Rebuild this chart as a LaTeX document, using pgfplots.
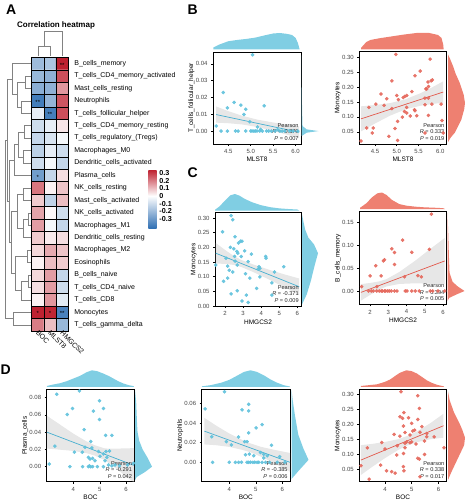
\documentclass[border=0pt]{standalone}
\usepackage{fontspec}
\setmainfont{Liberation Sans}
\usepackage{pgfplots}
\pgfplotsset{compat=1.18}

\definecolor{ptblue}{RGB}{95,193,220}
\definecolor{lnblue}{RGB}{70,175,208}
\definecolor{dnblue}{RGB}{128,206,227}
\definecolor{ptred}{RGB}{229,104,92}
\definecolor{lnred}{RGB}{226,88,75}
\definecolor{dnred}{RGB}{238,128,113}
\definecolor{bandc}{RGB}{195,195,195}
\definecolor{hmblue}{RGB}{50,113,180}
\definecolor{hmred}{RGB}{190,33,48}
\definecolor{tickgray}{RGB}{70,70,70}
\definecolor{dendro}{RGB}{130,130,130}

\pgfplotsset{
 sc/.style={scale only axis, anchor=north west, enlargelimits=false,
   axis line style={line width=0.6pt}, tick align=outside, tick pos=left, major tick length=2pt,
   every tick/.style={black, line width=0.45pt},
   ticklabel style={font=\fontsize{6}{7}\selectfont, text=tickgray},
   label style={font=\fontsize{6.5}{7.5}\selectfont},
   xlabel style={at={(axis description cs:0.5,-0.17)}, anchor=center},
   ylabel style={at={(axis description cs:-0.245,0.5)}, anchor=center},
   /pgf/number format/assume math mode=true, scaled ticks=false,
   yticklabel style={/pgf/number format/.cd, fixed, fixed zerofill, precision=2},
   xticklabel style={/pgf/number format/.cd, fixed, fixed zerofill, precision=1},
 },
 intx/.style={xticklabel style={/pgf/number format/.cd, fixed, precision=0, fixed zerofill=false}},
 dt/.style={scale only axis, anchor=south west, height=16.5pt, ymin=0, ymax=1, hide axis, enlargelimits=false, clip=false},
 dr/.style={scale only axis, anchor=north west, width=17pt, xmin=0, xmax=1, hide axis, enlargelimits=false, clip=false},
 pb/.style={color=ptblue, only marks, mark=*, mark size=1.6pt, mark options={draw=ptblue, fill=ptblue, fill opacity=0.9, draw opacity=0.9}},
 pr/.style={color=ptred, only marks, mark=*, mark size=1.6pt, mark options={draw=ptred, fill=ptred, fill opacity=0.9, draw opacity=0.9}},
 bnd/.style={fill=bandc, draw=none, fill opacity=0.4},
}
\newcommand{\pear}[2]{\node[anchor=south east, align=right, font=\fontsize{5.6}{6.6}\selectfont, inner sep=0pt, text=black!85] at (axis description cs:0.975,0.035) {Pearson\\\textit{R} = #1\\\textit{P} = #2};}

\begin{document}
\begin{tikzpicture}
\useasboundingbox (0,0) rectangle (465pt,-500pt);

% ================= heatmap =================
\begin{axis}[at={(31.7pt,-57.3pt)}, anchor=north west, scale only axis, width=36.6pt, height=273.7pt,
 xmin=-0.5, xmax=2.5, ymin=0.5, ymax=22.5, y dir=reverse, enlargelimits=false,
 colormap={hm}{rgb255(0cm)=(50,113,180) rgb255(4.2cm)=(255,255,255) rgb255(7.6cm)=(190,33,48)},
 point meta min=-0.42, point meta max=0.34,
 xtick={0,1,2}, xticklabels={BOC,MLST8,HMGCS2},
 ytick={1,2,...,22},
 yticklabels={B\_cells\_memory,T\_cells\_CD4\_memory\_activated,Mast\_cells\_resting,Neutrophils,T\_cells\_follicular\_helper,T\_cells\_CD4\_memory\_resting,T\_cells\_regulatory\_(Tregs),Macrophages\_M0,Dendritic\_cells\_activated,Plasma\_cells,NK\_cells\_resting,Mast\_cells\_activated,NK\_cells\_activated,Macrophages\_M1,Dendritic\_cells\_resting,Macrophages\_M2,Eosinophils,B\_cells\_naive,T\_cells\_CD4\_naive,T\_cells\_CD8,Monocytes,T\_cells\_gamma\_delta},
 yticklabel pos=right,
 major tick length=0pt, minor tick length=0pt,
 minor xtick={-0.5,0.5,1.5,2.5}, minor ytick={0.5,1.5,...,22.5},
 xminorgrids, yminorgrids, minor grid style={black, line width=0.45pt},
 axis on top, axis line style={black, line width=0.45pt},
 ticklabel style={font=\fontsize{7}{8}\selectfont},
 yticklabel style={anchor=west, xshift=2.5pt},
 xticklabel style={rotate=-45, anchor=west, yshift=-1pt, xshift=-1pt, inner sep=1pt},
]
\addplot[matrix plot*, mesh/cols=3, point meta=explicit] table[meta=c] {
x y c
0 1 -0.20
1 1 -0.17
2 1 0.39
0 2 -0.21
1 2 -0.23
2 2 0.27
0 3 -0.24
1 3 -0.23
2 3 0.16
0 4 -0.385
1 4 -0.22
2 4 0.26
0 5 -0.05
1 5 -0.379
2 5 0.27
0 6 -0.10
1 6 -0.05
2 6 0.04
0 7 -0.12
1 7 -0.08
2 7 -0.02
0 8 -0.14
1 8 -0.05
2 8 -0.10
0 9 -0.10
1 9 -0.02
2 9 -0.12
0 10 -0.291
1 10 -0.12
2 10 0.05
0 11 0.21
1 11 0.02
2 11 0.09
0 12 0.08
1 12 -0.13
2 12 0.10
0 13 0.14
1 13 0.01
2 13 -0.10
0 14 0.15
1 14 -0.02
2 14 -0.12
0 15 0.08
1 15 0.03
2 15 0.05
0 16 0.06
1 16 0.13
2 16 0.09
0 17 0.02
1 17 0.10
2 17 0.08
0 18 0.06
1 18 0.15
2 18 -0.12
0 19 0.05
1 19 0.15
2 19 -0.10
0 20 0.02
1 20 0.16
2 20 -0.06
0 21 0.338
1 21 0.333
2 21 -0.371
0 22 0.20
1 22 0.10
2 22 -0.21
};
\begin{scope}[font=\fontsize{6}{6}\selectfont, inner sep=0pt]
\node at (axis cs:2,1.12) {**};
\node at (axis cs:0,4.12) {**};
\node at (axis cs:1,5.12) {**};
\node at (axis cs:0,10.12) {*};
\node at (axis cs:0,21.12) {*};
\node at (axis cs:1,21.12) {*};
\node at (axis cs:2,21.12) {**};
\end{scope}
\end{axis}

% colour bar
\begin{axis}[at={(148.3pt,-228pt)}, anchor=south west, scale only axis, width=8.4pt, height=58pt,
 xmin=0, xmax=1, ymin=-0.42, ymax=0.34, enlargelimits=false, axis line style={draw=none},
 xtick=\empty, ytick={-0.3,-0.2,-0.1,0,0.1,0.2,0.3},
 yticklabels={-0.3,-0.2,-0.1,0,0.1,0.2,0.3}, yticklabel pos=right, major tick length=0pt,
 yticklabel style={font=\bfseries\fontsize{7.2}{7.2}\selectfont, anchor=west, inner sep=0.5pt, xshift=2pt}]
\shade[bottom color=hmblue, top color=white] (axis cs:0,-0.42) rectangle (axis cs:1,0.001);
\shade[bottom color=white, top color=hmred] (axis cs:0,0) rectangle (axis cs:1,0.34);
\end{axis}

% dendrograms
\begin{scope}[x=1pt, y=-12.44pt, yshift=-51.08pt, draw=dendro, line width=0.45pt]
\draw (31,2)--(25,2)--(25,3)--(31,3);
\draw (31,4)--(21,4)--(21,5)--(31,5);
\draw (25,2.5)--(17,2.5)--(17,4.5)--(21,4.5);
\draw (31,1)--(12,1)--(12,3.5)--(17,3.5);
\draw (31,6)--(24,6)--(24,7)--(31,7);
\draw (31,8)--(23,8)--(23,9)--(31,9);
\draw (24,6.5)--(18,6.5)--(18,8.5)--(23,8.5);
\draw (18,7.5)--(14,7.5)--(14,10)--(31,10);
\draw (31,11)--(23,11)--(23,12)--(31,12);
\draw (31,13)--(28,13)--(28,14)--(31,14);
\draw (28,13.5)--(23,13.5)--(23,15)--(31,15);
\draw (23,11.5)--(17,11.5)--(17,14.25)--(23,14.25);
\draw (31,16)--(27,16)--(27,17)--(31,17);
\draw (31,18)--(28,18)--(28,19)--(31,19);
\draw (28,18.5)--(21,18.5)--(21,20)--(31,20);
\draw (27,16.5)--(15,16.5)--(15,19.25)--(21,19.25);
\draw (31,21)--(13,21)--(13,22)--(31,22);
\draw (17,12.875)--(11,12.875)--(11,17.875)--(15,17.875);
\draw (14,8.75)--(9,8.75)--(9,15.375)--(11,15.375);
\draw (12,2.25)--(7,2.25)--(7,12.06)--(9,12.06);
\draw (7,7.16)--(5,7.16)--(5,21.5)--(13,21.5);
\end{scope}
\begin{scope}[draw=dendro, line width=0.45pt]
\draw (37.8pt,-56.5pt)--(37.8pt,-46pt)--(50pt,-46pt)--(50pt,-56.5pt);
\draw (43.9pt,-46pt)--(43.9pt,-31.7pt)--(62.2pt,-31.7pt)--(62.2pt,-56.5pt);
\end{scope}

\node[font=\bfseries\fontsize{8}{9}\selectfont] at (56pt,-25pt) {Correlation heatmap};
\node[anchor=base west, font=\bfseries\fontsize{14}{14}\selectfont, inner sep=0pt] at (6pt,-15pt) {A};
\node[anchor=base west, font=\bfseries\fontsize{14}{14}\selectfont, inner sep=0pt] at (187.5pt,-15pt) {B};
\node[anchor=base west, font=\bfseries\fontsize{14}{14}\selectfont, inner sep=0pt] at (187.5pt,-177pt) {C};
\node[anchor=base west, font=\bfseries\fontsize{14}{14}\selectfont, inner sep=0pt] at (0.5pt,-374pt) {D};

% ================= B left =================
\begin{axis}[sc, at={(213pt,-52pt)}, width=88pt, height=92pt,
 xmin=4.16, xmax=6.12, ymin=-0.0077, ymax=0.047,
 xtick={4.5,5,5.5,6}, ytick={0,0.01,0.02,0.03,0.04},
 xlabel={MLST8}, ylabel={T\_cells\_follicular\_helper}]
\addplot[pb] coordinates {(5.04,0.0453) (4.39,0.0229) (4.48,0.0138) (4.63,0.0170) (4.78,0.0154) (4.89,0.0130) (4.85,0.0099) (5.30,0.0150) (4.98,0.0055) (5.15,0.0024) (4.23,0.0030)
(4.34,0) (4.48,0) (4.66,0) (4.72,0) (4.89,0) (5.00,0) (5.03,0) (5.07,0) (5.14,0) (5.20,0) (5.26,0) (5.35,0) (5.40,0) (5.46,0) (5.54,0) (5.65,0) (5.76,0) (5.87,0) (5.94,0) (5.22,0.001) (5.60,0.0008) (6.05,0) (5.10,0) (5.70,0)};
\addplot[bnd] coordinates {(4.23,0.0146) (4.5,0.01185) (4.8,0.00915) (5.15,0.00678) (5.5,0.0051) (5.8,0.0039) (6.08,0.00292)
 (6.08,-0.00428) (5.8,-0.0021) (5.5,0.0001) (5.15,0.00238) (4.8,0.00395) (4.5,0.00465) (4.23,0.0050)} -- cycle;
\addplot[lnblue, line width=0.7pt] coordinates {(4.23,0.0098) (6.08,-0.0007)};
\pear{-0.379}{0.007}
\end{axis}
\begin{axis}[dt, at={(213pt,-49.5pt)}, width=88pt, xmin=4.16, xmax=6.12]
\addplot[fill=dnblue, draw=none] coordinates {(4.17,0.12) (4.3,0.3) (4.5,0.5) (4.7,0.58) (4.9,0.64) (5.1,0.72) (5.3,0.85) (5.5,0.97) (5.65,1.0) (5.8,0.95) (5.92,0.88) (6.0,0.7) (6.05,0.4) (6.08,0.1) (6.09,0)} \closedcycle;
\end{axis}
\begin{axis}[dr, at={(301.5pt,-52pt)}, height=92pt, ymin=-0.0077, ymax=0.047]
\addplot[fill=dnblue, draw=none] coordinates {(0,-0.003) (0.3,-0.001) (1.0,0.0) (0.3,0.001) (0.06,0.003) (0.04,0.01) (0.03,0.015) (0.015,0.025) (0,0.045)} -- cycle;
\end{axis}

% ================= B right =================
\begin{axis}[sc, at={(359.3pt,-51.7pt)}, width=87.4pt, height=92.3pt,
 xmin=4.14, xmax=6.15, ymin=0.009, ymax=0.319,
 xtick={4.5,5,5.5,6}, ytick={0.05,0.10,0.15,0.20,0.25,0.30},
 xlabel={MLST8}, ylabel={Monocytes}]
\addplot[pr] coordinates {(4.98,0.310) (5.77,0.294) (5.54,0.254) (5.42,0.238) (4.89,0.221) (5.82,0.224) (5.79,0.221) (5.72,0.217) (5.73,0.202) (5.69,0.194) (5.67,0.194) (5.35,0.185) (4.64,0.177) (5.00,0.172) (5.19,0.169) (5.23,0.172) (5.15,0.165) (5.04,0.158) (4.77,0.161) (5.65,0.163) (5.73,0.163) (4.52,0.143) (4.71,0.139) (4.36,0.132) (4.89,0.128) (5.23,0.132) (5.41,0.124) (5.42,0.121) (5.65,0.141) (5.81,0.143) (6.02,0.143) (5.18,0.118) (5.23,0.113) (5.13,0.099) (5.02,0.085) (5.46,0.104) (5.73,0.105) (5.31,0.103) (6.04,0.088) (4.31,0.063) (4.46,0.063) (4.44,0.046) (4.96,0.061) (4.82,0.035) (5.02,0.021) (4.18,0.019) (5.65,0.046) (6.07,0.046)};
\addplot[bnd] coordinates {(4.18,0.1355) (4.5,0.1398) (4.85,0.1464) (5.2,0.1591) (5.55,0.1797) (5.85,0.202) (6.07,0.2195)
 (6.07,0.1475) (5.85,0.144) (5.55,0.1377) (5.2,0.1251) (4.85,0.1044) (4.5,0.0778) (4.18,0.0515)} -- cycle;
\addplot[lnred, line width=0.7pt] coordinates {(4.18,0.0935) (6.07,0.1835)};
\pear{0.333}{0.019}
\end{axis}
\begin{axis}[dt, at={(359.3pt,-49.5pt)}, width=87.4pt, xmin=4.14, xmax=6.15]
\addplot[fill=dnred, draw=none] coordinates {(4.18,0.1) (4.3,0.45) (4.4,0.58) (4.6,0.68) (4.85,0.78) (5.15,0.9) (5.45,1.0) (5.75,1.0) (5.95,0.88) (6.03,0.7) (6.07,0.3) (6.08,0)} \closedcycle;
\end{axis}
\begin{axis}[dr, at={(448pt,-51.7pt)}, height=92.3pt, ymin=0.009, ymax=0.319]
\addplot[fill=dnred, draw=none] coordinates {(0,0.015) (0.15,0.03) (0.4,0.047) (0.6,0.07) (0.78,0.09) (0.95,0.125) (1.0,0.147) (0.92,0.175) (0.7,0.213) (0.45,0.245) (0.3,0.27) (0.12,0.295) (0,0.31)} -- cycle;
\end{axis}

% ================= C left =================
\begin{axis}[sc, intx, at={(215pt,-212.7pt)}, width=86pt, height=93.3pt,
 xmin=1.45, xmax=6.2, ymin=0, ymax=0.318,
 xtick={2,3,4,5,6}, ytick={0,0.05,0.10,0.15,0.20,0.25,0.30},
 xlabel={HMGCS2}, ylabel={Monocytes}]
\addplot[pb] coordinates {(2.34,0.308) (2.43,0.294) (1.87,0.253) (2.56,0.236) (2.75,0.215) (2.86,0.221) (2.94,0.221) (2.30,0.200) (2.49,0.195) (2.66,0.186) (2.71,0.180) (3.09,0.188) (3.46,0.177) (2.06,0.163) (2.53,0.169) (2.90,0.169) (2.56,0.153) (3.28,0.151) (4.25,0.169) (4.27,0.163) (1.49,0.140) (2.15,0.136) (2.68,0.140) (3.88,0.134) (3.93,0.128) (3.84,0.126) (5.25,0.134) (4.74,0.116) (2.24,0.122) (2.43,0.116) (3.13,0.110) (3.37,0.095) (3.93,0.099) (2.15,0.095) (1.92,0.084) (3.75,0.060) (4.59,0.079) (2.34,0.041) (2.68,0.052) (3.18,0.037) (2.94,0.017) (3.28,0.012) (4.59,0.037)};
\addplot[bnd] coordinates {(1.49,0.215) (2.0,0.1914) (2.5,0.170) (2.9,0.157) (3.6,0.1407) (4.5,0.1223) (5.3,0.1075) (6.1,0.0937)
 (6.1,0.0377) (5.3,0.0635) (4.5,0.0883) (3.6,0.1147) (2.9,0.133) (2.5,0.140) (2.0,0.1434) (1.49,0.145)} -- cycle;
\addplot[lnblue, line width=0.7pt] coordinates {(1.49,0.18) (6.1,0.0657)};
\pear{-0.371}{0.009}
\end{axis}
\begin{axis}[dt, at={(215pt,-210.5pt)}, width=86pt, xmin=1.45, xmax=6.2]
\addplot[fill=dnblue, draw=none] coordinates {(1.46,0.05) (1.7,0.25) (2.0,0.6) (2.3,0.92) (2.55,1.0) (2.8,0.9) (3.1,0.7) (3.5,0.5) (4.0,0.32) (4.5,0.2) (5.0,0.13) (5.5,0.09) (6.0,0.06) (6.1,0)} \closedcycle;
\end{axis}
\begin{axis}[dr, at={(302pt,-212.7pt)}, width=16pt, height=93.3pt, ymin=0, ymax=0.318]
\addplot[fill=dnblue, draw=none] coordinates {(0,0.005) (0.3,0.04) (0.55,0.085) (0.8,0.14) (1.0,0.18) (0.75,0.21) (0.4,0.233) (0.2,0.26) (0.1,0.285) (0,0.312)} -- cycle;
\end{axis}

% ================= C right =================
\begin{axis}[sc, intx, at={(359.3pt,-211.7pt)}, width=87.4pt, height=92.6pt,
 xmin=1.41, xmax=6.2, ymin=-0.029, ymax=0.173,
 xtick={2,3,4,5,6}, ytick={0,0.05,0.10,0.15},
 xlabel={HMGCS2}, ylabel={B\_cells\_memory}]
\addplot[pr] coordinates {(5.36,0.1675) (3.78,0.111) (3.19,0.092) (3.34,0.084) (4.29,0.0845) (5.25,0.091) (2.79,0.068) (2.73,0.0656) (3.34,0.058) (2.31,0.055) (2.00,0.033) (2.61,0.033) (3.89,0.031) (4.62,0.0335) (4.81,0.031) (1.54,0.0095) (2.37,0.0095)
(1.91,0) (2.06,0) (2.18,0) (2.37,0) (2.50,0) (2.61,0) (2.68,0) (2.79,0) (2.86,0) (2.97,0) (3.05,0) (3.16,0) (3.34,0) (3.47,0) (3.93,0) (4.02,0) (4.29,0) (4.48,0) (4.70,0) (5.30,0) (5.43,0) (5.72,0) (6.09,0)};
\addplot[bnd] coordinates {(1.5,0.015) (2.0,0.0175) (2.5,0.021) (2.9,0.0259) (3.6,0.0414) (4.5,0.0669) (5.3,0.0918) (6.09,0.1156)
 (6.09,0.0156) (5.3,0.0158) (4.5,0.0169) (3.6,0.0154) (2.9,0.0099) (2.5,0.003) (2.0,-0.0085) (1.5,-0.021)} -- cycle;
\addplot[lnred, line width=0.7pt] coordinates {(1.5,-0.003) (6.09,0.0656)};
\pear{0.394}{0.005}
\end{axis}
\begin{axis}[dt, at={(359.3pt,-209pt)}, width=87.4pt, xmin=1.41, xmax=6.2]
\addplot[fill=dnred, draw=none] coordinates {(1.46,0.08) (1.8,0.35) (2.1,0.7) (2.4,0.95) (2.65,1.0) (2.9,0.85) (3.2,0.55) (3.6,0.3) (4.0,0.2) (4.5,0.14) (5.0,0.1) (5.5,0.08) (6.0,0.05) (6.1,0)} \closedcycle;
\end{axis}
\begin{axis}[dr, at={(447.5pt,-211.7pt)}, height=92.6pt, ymin=-0.029, ymax=0.173]
\addplot[fill=dnred, draw=none] coordinates {(0,-0.022) (0.1,-0.015) (0.5,-0.008) (1.0,0.0) (0.6,0.01) (0.3,0.02) (0.12,0.04) (0.08,0.08) (0.05,0.12) (0,0.17)} -- cycle;
\end{axis}

% ================= D left =================
\begin{axis}[sc, intx, at={(46.7pt,-389.3pt)}, width=87.6pt, height=92.4pt,
 xmin=2.99, xmax=6.31, ymin=-0.0174, ymax=0.0897,
 xtick={4,5,6}, ytick={0,0.02,0.04,0.06,0.08},
 xlabel={BOC}, ylabel={Plasma\_cells}]
\addplot[pb] coordinates {(4.23,0.0878) (3.37,0.0839) (4.99,0.0765) (3.97,0.0675) (5.14,0.0675) (4.76,0.0644) (3.77,0.0605) (4.99,0.0546) (4.41,0.0429) (5.22,0.0363) (5.46,0.0363) (4.66,0.0293) (3.30,0.0238) (4.44,0.0226) (4.70,0.0218) (4.04,0.0168) (4.34,0.0168) (4.95,0.0176) (5.24,0.0176) (5.37,0.0183) (5.14,0.0148) (4.57,0.0109) (4.63,0.0090) (4.73,0.0097) (4.82,0.0070) (5.01,0.0121) (5.27,0.0109) (5.20,0.0070) (3.09,0.0031) (3.87,0) (4.35,0) (4.57,0) (4.61,0.001) (4.66,0) (4.73,0) (4.91,0) (5.14,0) (5.33,0.002) (5.46,0.001) (5.58,0.002) (5.75,0.001) (6.05,0.002) (6.28,0.004)};
\addplot[bnd] coordinates {(3.0,0.059) (3.5,0.0487) (4.0,0.0383) (4.5,0.0293) (4.8,0.025) (5.2,0.0211) (5.7,0.021) (6.3,0.0215)
 (6.3,-0.0185) (5.7,-0.004) (5.2,0.0075) (4.8,0.013) (4.5,0.0157) (4.0,0.0183) (3.5,0.0197) (3.0,0.021)} -- cycle;
\addplot[lnblue, line width=0.7pt] coordinates {(3.0,0.040) (6.3,0.0015)};
\pear{-0.291}{0.042}
\end{axis}
\begin{axis}[dt, at={(46.7pt,-386.8pt)}, width=87.6pt, xmin=2.99, xmax=6.31]
\addplot[fill=dnblue, draw=none] coordinates {(3.0,0.05) (3.12,0.1) (3.5,0.22) (3.75,0.34) (4.0,0.5) (4.25,0.66) (4.5,0.88) (4.7,1.0) (4.9,0.95) (5.14,0.8) (5.35,0.65) (5.52,0.5) (5.7,0.34) (5.9,0.2) (6.1,0.1) (6.28,0.04) (6.3,0)} \closedcycle;
\end{axis}
\begin{axis}[dr, at={(135pt,-389.3pt)}, height=92.4pt, ymin=-0.0174, ymax=0.0897]
\addplot[fill=dnblue, draw=none] coordinates {(0,-0.016) (0.1,-0.012) (0.6,-0.006) (1.0,0.0) (0.75,0.01) (0.45,0.02) (0.25,0.03) (0.15,0.04) (0.12,0.05) (0.1,0.06) (0.07,0.075) (0,0.089)} -- cycle;
\end{axis}

% ================= D middle =================
\begin{axis}[sc, intx, at={(201.7pt,-389.3pt)}, width=88.3pt, height=92.4pt,
 xmin=2.96, xmax=6.29, ymin=-0.0197, ymax=0.0742,
 xtick={4,5,6}, ytick={0,0.02,0.04,0.06},
 xlabel={BOC}, ylabel={Neutrophils}]
\addplot[pb] coordinates {(3.82,0.0717) (4.73,0.059) (3.09,0.0543) (4.48,0.0533) (4.73,0.0523) (5.24,0.0383) (5.01,0.035) (4.73,0.030) (3.34,0.026) (4.35,0.0257) (3.89,0.021) (4.58,0.021) (4.67,0.021) (4.08,0.0177) (5.59,0.0173) (4.61,0.0077) (4.76,0.0083) (5.18,0.010) (5.30,0.0083) (4.92,0.0067) (5.43,0.0067) (5.90,0.0057) (5.30,0.0043)
(3.37,0) (4.0,0) (4.23,0) (4.35,0) (4.46,0) (4.67,0) (4.73,0) (4.80,0) (4.89,0) (4.96,0) (5.05,0) (5.11,0) (5.24,0) (5.37,0) (5.52,0) (5.81,0) (6.10,0)};
\addplot[bnd] coordinates {(3.06,0.0452) (3.5,0.0374) (4.0,0.0293) (4.5,0.0226) (4.8,0.0192) (5.2,0.0157) (5.7,0.0127) (6.29,0.0095)
 (6.29,-0.0095) (5.7,-0.0009) (5.2,0.0057) (4.8,0.0102) (4.5,0.0126) (4.0,0.0157) (3.5,0.0174) (3.06,0.0182)} -- cycle;
\addplot[lnblue, line width=0.7pt] coordinates {(3.06,0.0317) (6.29,0.0)};
\pear{-0.385}{0.006}
\end{axis}
\begin{axis}[dt, at={(201.7pt,-386.8pt)}, width=88.3pt, xmin=2.96, xmax=6.29]
\addplot[fill=dnblue, draw=none] coordinates {(2.97,0.03) (3.3,0.1) (3.7,0.25) (4.0,0.42) (4.3,0.68) (4.55,0.9) (4.8,1.0) (5.05,0.9) (5.3,0.7) (5.55,0.45) (5.8,0.25) (6.05,0.1) (6.28,0.02) (6.29,0)} \closedcycle;
\end{axis}
\begin{axis}[dr, at={(291.5pt,-389.3pt)}, height=92.4pt, ymin=-0.0197, ymax=0.0742]
\addplot[fill=dnblue, draw=none] coordinates {(0,-0.017) (0.4,-0.009) (1.0,0.0025) (0.7,0.014) (0.4,0.028) (0.2,0.048) (0.08,0.062) (0,0.074)} -- cycle;
\end{axis}

% ================= D right =================
\begin{axis}[sc, intx, at={(359.3pt,-389.3pt)}, width=87.4pt, height=92.4pt,
 xmin=3.04, xmax=6.31, ymin=0.0075, ymax=0.317,
 xtick={4,5,6}, ytick={0.05,0.10,0.15,0.20,0.25,0.30},
 xlabel={BOC}, ylabel={Monocytes}]
\addplot[pr] coordinates {(4.60,0.309) (5.23,0.2955) (5.29,0.253) (4.71,0.239) (4.56,0.225) (4.66,0.220) (4.88,0.222) (5.23,0.216) (4.69,0.194) (5.00,0.203) (5.38,0.192) (5.04,0.177) (5.11,0.180) (4.75,0.172) (5.31,0.173) (5.56,0.169) (4.94,0.164) (4.34,0.166) (4.56,0.160) (5.84,0.158) (5.56,0.158) (3.88,0.139) (4.81,0.141) (5.00,0.141) (5.48,0.144) (4.75,0.136) (4.94,0.138) (5.16,0.134) (4.00,0.117) (4.46,0.128) (4.75,0.121) (3.34,0.121) (4.69,0.102) (4.44,0.097) (5.48,0.099) (6.21,0.121) (5.23,0.086) (5.29,0.083) (3.84,0.063) (3.10,0.061) (4.06,0.044) (4.25,0.041) (4.38,0.036) (4.69,0.058) (4.71,0.044) (3.41,0.016) (5.31,0.024)};
\addplot[bnd] coordinates {(3.1,0.130) (3.5,0.1339) (4.0,0.1405) (4.5,0.1501) (4.85,0.1611) (5.2,0.1761) (5.7,0.2037) (6.19,0.235)
 (6.19,0.155) (5.7,0.1497) (5.2,0.1401) (4.85,0.1291) (4.5,0.1141) (4.0,0.0865) (3.5,0.0559) (3.1,0.030)} -- cycle;
\addplot[lnred, line width=0.7pt] coordinates {(3.1,0.08) (6.19,0.195)};
\pear{0.338}{0.017}
\end{axis}
\begin{axis}[dt, at={(359.3pt,-386.8pt)}, width=87.4pt, xmin=3.04, xmax=6.31]
\addplot[fill=dnred, draw=none] coordinates {(3.1,0.05) (3.4,0.1) (3.7,0.15) (4.0,0.3) (4.2,0.45) (4.4,0.68) (4.56,0.85) (4.8,1.0) (5.0,0.95) (5.2,0.8) (5.4,0.58) (5.56,0.4) (5.75,0.24) (5.95,0.12) (6.2,0.03) (6.21,0)} \closedcycle;
\end{axis}
\begin{axis}[dr, at={(448pt,-389.3pt)}, height=92.4pt, ymin=0.0075, ymax=0.317]
\addplot[fill=dnred, draw=none] coordinates {(0,0.013) (0.2,0.04) (0.45,0.07) (0.7,0.1) (0.95,0.13) (1.0,0.155) (0.85,0.18) (0.7,0.2) (0.35,0.24) (0.1,0.28) (0,0.31)} -- cycle;
\end{axis}

\end{tikzpicture}
\end{document}
